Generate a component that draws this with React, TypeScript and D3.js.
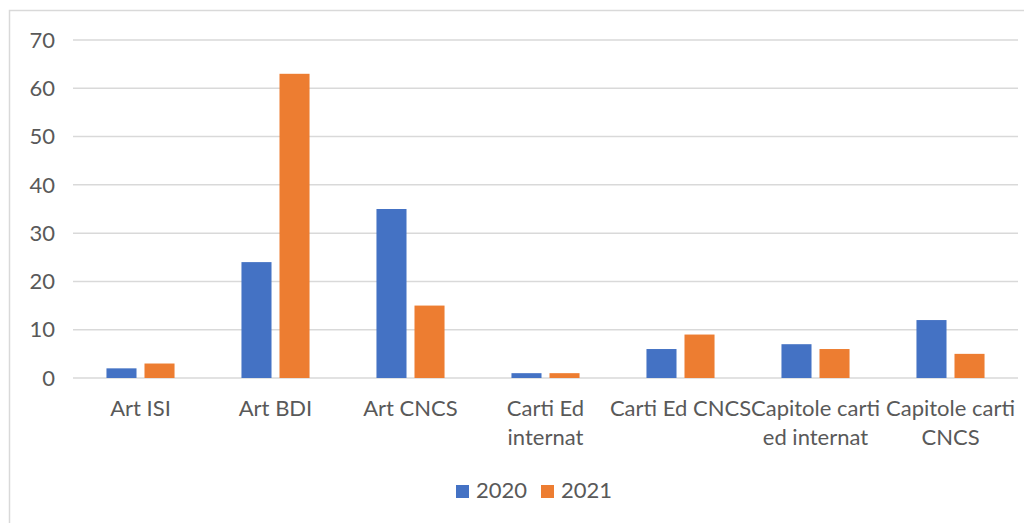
import React from "react";
import * as d3 from "d3";

const categories: string[][] = [
  ["Art ISI"],
  ["Art BDI"],
  ["Art CNCS"],
  ["Carti Ed", "internat"],
  ["Carti Ed CNCS"],
  ["Capitole carti", "ed internat"],
  ["Capitole carti", "CNCS"],
];
const series2020 = [2, 24, 35, 1, 6, 7, 12];
const series2021 = [3, 63, 15, 1, 9, 6, 5];
const seriesNames = ["2020", "2021"];
const yTicks = [0, 10, 20, 30, 40, 50, 60, 70];

const colors = ["#4472C4", "#ED7D31"];
const W = 1024;
const H = 515;
const FONT = "Lato, 'Open Sans', sans-serif";
const FS = 22;

export default function App() {
  // svg placed at (8,8) by body margin
  const left = 65;
  const right = 1010;
  const top = 32;
  const bottom = 370;
  const y = d3.scaleLinear().domain([0, 70]).range([bottom, top]);
  const x0 = d3
    .scaleBand<number>()
    .domain(d3.range(categories.length))
    .range([left, right])
    .paddingInner(0)
    .paddingOuter(0);
  const x1 = d3
    .scaleBand<number>()
    .domain([0, 1])
    .range([0, x0.bandwidth()])
    .paddingInner(0.21)
    .paddingOuter(0.88);
  const data = [series2020, series2021];

  return (
    <svg width={W} height={H} style={{ display: "block" }}>
      <rect x={1.5} y={2.5} width={W + 10} height={H + 10} fill="#fff" stroke="#D9D9D9" strokeWidth={1.5} />
      {yTicks.map((t) => (
        <g key={t}>
          <line x1={left} x2={right} y1={y(t)} y2={y(t)} stroke="#D9D9D9" strokeWidth={1.5} />
          <text
            x={left - 18}
            y={y(t)}
            dy="0.35em"
            textAnchor="end"
            fill="#595959"
            fontSize={FS}
            fontFamily={FONT}
          >
            {t}
          </text>
        </g>
      ))}
      {data.map((vals, si) =>
        vals.map((v, ci) => (
          <rect
            key={`${si}-${ci}`}
            x={(x0(ci) ?? 0) + (x1(si) ?? 0)}
            y={y(v)}
            width={x1.bandwidth()}
            height={y(0) - y(v)}
            fill={colors[si]}
          />
        ))
      )}
      {categories.map((lines, ci) => (
        <text
          key={ci}
          x={(x0(ci) ?? 0) + x0.bandwidth() / 2}
          y={408}
          textAnchor="middle"
          fill="#595959"
          fontSize={FS}
          fontFamily={FONT}
        >
          {lines.map((l, li) => (
            <tspan key={li} x={(x0(ci) ?? 0) + x0.bandwidth() / 2} dy={li === 0 ? 0 : 29}>
              {l}
            </tspan>
          ))}
        </text>
      ))}
      {seriesNames.map((n, i) => {
        const lx = 448 + i * 85;
        return (
          <g key={n}>
            <rect x={lx} y={477} width={13} height={13} fill={colors[i]} />
            <text x={lx + 20} y={490} fill="#595959" fontSize={FS} fontFamily={FONT}>
              {n}
            </text>
          </g>
        );
      })}
    </svg>
  );
}
